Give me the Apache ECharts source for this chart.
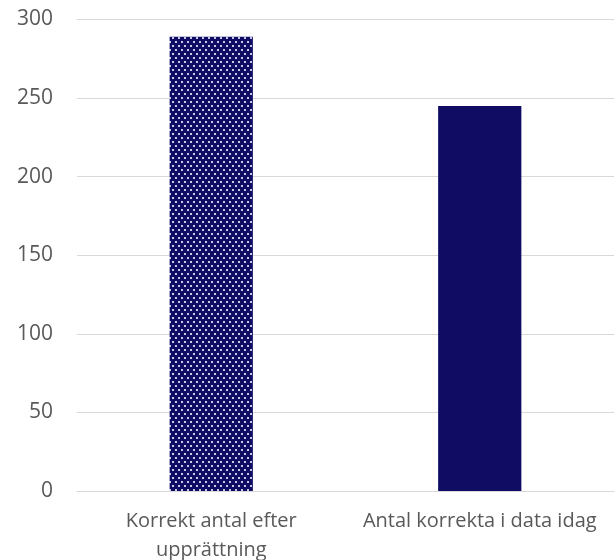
<!DOCTYPE html>
<html>
<head>
<meta charset="utf-8">
<script src="https://cdn.jsdelivr.net/npm/echarts@6/dist/echarts.min.js"></script>
<style>
html,body{margin:0;padding:0;background:#fff;}
#chart{width:616px;height:560px;}
</style>
</head>
<body>
<div id="chart"></div>
<script>
var categories = ['Korrekt antal efter upprättning', 'Antal korrekta i data idag'];
var categoryLabels = ['Korrekt antal efter\nupprättning', 'Antal korrekta i data idag'];
var values = [289, 245];
var yTicks = { min: 0, max: 300, interval: 50 };

var navy = '#100c64';
function makeDots() {
  var c = document.createElement('canvas');
  c.width = 6; c.height = 8;
  var ctx = c.getContext('2d');
  ctx.fillStyle = navy;
  ctx.fillRect(0, 0, 6, 8);
  ctx.fillStyle = 'rgba(220,220,245,0.9)';
  ctx.fillRect(1, 1, 2, 2);
  ctx.fillRect(4, 5, 2, 2);
  return c;
}
var dotPattern = { image: makeDots(), repeat: 'repeat' };

var chart = echarts.init(document.getElementById('chart'), null, { renderer: 'canvas' });
var labelMap = {};
categories.forEach(function (c, i) { labelMap[c] = categoryLabels[i]; });

chart.setOption({
  animation: false,
  grid: { left: 77, right: 2, top: 19.5, bottom: 69, containLabel: false, outerBoundsMode: 'none' },
  xAxis: {
    type: 'category',
    data: categories,
    axisLine: { show: true, lineStyle: { color: '#d9d9d9', width: 1 } },
    axisTick: { show: false },
    axisLabel: {
      color: '#595959',
      fontFamily: 'Open Sans',
      fontSize: 20,
      lineHeight: 29,
      margin: 16,
      interval: 0,
      formatter: function (v) { return labelMap[v] || v; }
    }
  },
  yAxis: {
    type: 'value',
    min: yTicks.min,
    max: yTicks.max,
    interval: yTicks.interval,
    axisLine: { show: false },
    axisTick: { show: false },
    splitLine: { lineStyle: { color: '#d9d9d9', width: 1 } },
    axisLabel: {
      color: '#595959',
      fontFamily: 'Open Sans',
      fontSize: 21,
      margin: 24
    }
  },
  series: [{
    type: 'bar',
    barWidth: '31%',
    data: [
      { value: values[0], itemStyle: { color: dotPattern } },
      { value: values[1], itemStyle: { color: navy } }
    ]
  }]
});
</script>
</body>
</html>
